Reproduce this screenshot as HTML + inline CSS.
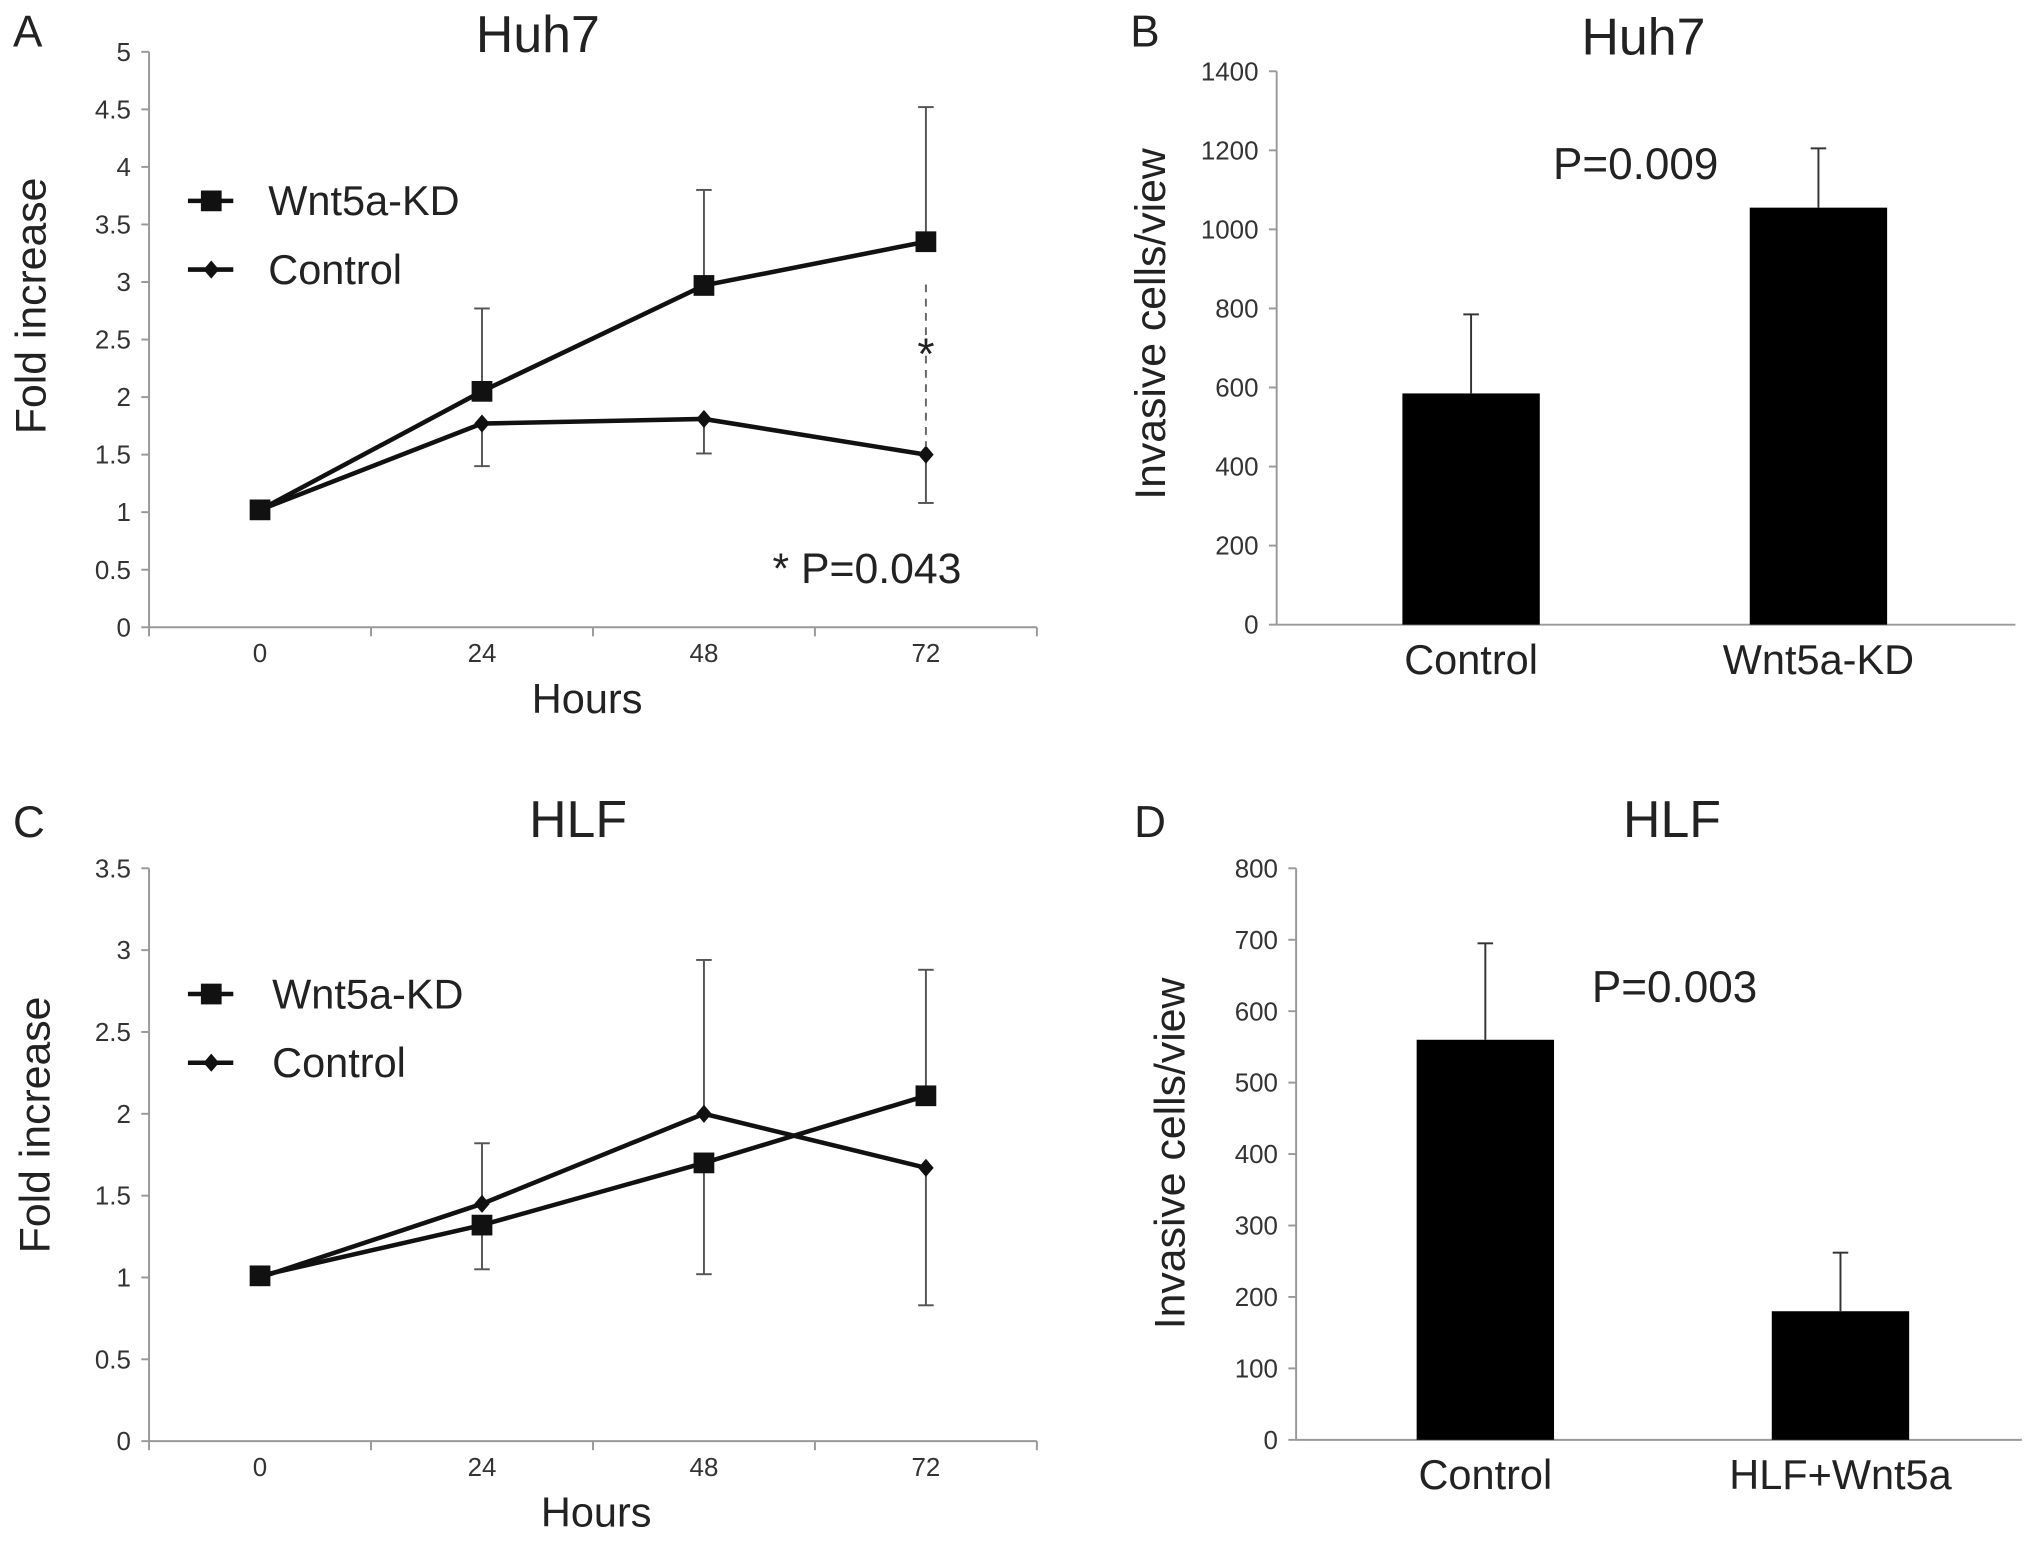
<!DOCTYPE html>
<html><head><meta charset="utf-8">
<style>
html,body{margin:0;padding:0;background:#fff;}
svg{display:block;}
text{font-family:"Liberation Sans",sans-serif;fill:#222;}
.tick{font-family:"Liberation Sans Narrow","Liberation Sans",sans-serif;font-size:20px;fill:#333;}
</style></head><body>
<svg id="fig" width="2031" height="1550" viewBox="0 0 1567 1196" preserveAspectRatio="none" xmlns="http://www.w3.org/2000/svg"></svg>
<script>
// ---- data ----
const hours = ["0","24","48","72"];
const huhKD = [1.02, 2.05, 2.97, 3.35];
const huhKDErr = [0, 0.72, 0.83, 1.17];
const huhCtrl = [1.02, 1.77, 1.81, 1.50];
const huhCtrlErr = [0, 0.37, 0.30, 0.42];
const huhTicks = ["0","0.5","1","1.5","2","2.5","3","3.5","4","4.5","5"];
const hlfKD = [1.01, 1.32, 1.70, 2.11];
const hlfKDErrUp = [0, 0, 0, 0.77];
const hlfKDErrDown = [0, 0.27, 0.68, 0];
const hlfCtrl = [1.0, 1.45, 2.0, 1.67];
const hlfCtrlErrUp = [0, 0.37, 0.94, 0];
const hlfCtrlErrDown = [0, 0, 0, 0.84];
const hlfTicks = ["0","0.5","1","1.5","2","2.5","3","3.5"];
const barCatsB = ["Control","Wnt5a-KD"];
const barValsB = [585, 1055];
const barErrB = [200, 150];
const ticksB = ["0","200","400","600","800","1000","1200","1400"];
const barCatsD = ["Control","HLF+Wnt5a"];
const barValsD = [560, 180];
const barErrD = [135, 82];
const ticksD = ["0","100","200","300","400","500","600","700","800"];

const NS="http://www.w3.org/2000/svg";
const svg=document.getElementById('fig');
function mk(tag,attrs,parent){const e=document.createElementNS(NS,tag);for(const k in attrs)e.setAttribute(k,attrs[k]);(parent||svg).appendChild(e);return e;}
function txt(s,x,y,size,anchor,cls,parent){const t=mk('text',{x:x,y:y,'font-size':size,'text-anchor':anchor||'middle'},parent);if(cls)t.setAttribute('class',cls);t.textContent=s;return t;}
function grp(name){const g=mk('g',{});return g;}

// ---------- line chart ----------
function lineChart(o){
  const g=grp(o.name);
  const x0=115,x1=800,yb=o.yb,yt=o.yt,max=o.max;
  const y=v=>yb-(v/max)*(yb-yt);
  const cw=(x1-x0)/hours.length;
  const x=i=>x0+cw*(i+0.5);
  const ax=mk('g',{},g);
  
  
  mk('line',{x1:x0,y1:yt,x2:x0,y2:yb,stroke:'#999','stroke-width':1.5},ax);
  o.ticks.forEach((t,i)=>{const v=parseFloat(t);mk('line',{x1:x0-6,y1:y(v),x2:x0,y2:y(v),stroke:'#999','stroke-width':1.5},ax);txt(t,x0-14,y(v)+7,20,'end','tick',ax);});
  const xa=mk('g',{},g);
  
  
  mk('line',{x1:x0,y1:yb,x2:x1,y2:yb,stroke:'#999','stroke-width':1.5},xa);
  for(let i=0;i<=hours.length;i++)mk('line',{x1:x0+cw*i,y1:yb,x2:x0+cw*i,y2:yb+7,stroke:'#999','stroke-width':1.5},xa);
  hours.forEach((h,i)=>txt(h,x(i),yb+27,20,'middle','tick',xa));
  const xt=txt('Hours',o.hx,yb+66,32,'middle',null,g);
  
  
  const yl=txt('Fold increase',0,0,33,'middle',null,g);
  yl.setAttribute('transform',`translate(${o.ytx},${o.yty}) rotate(-90)`);
  
  
  const tt=txt(o.title,o.tx,o.ty,40,'middle',null,g);
  
  
  o.series.forEach(s=>{
    s.vals.forEach((v,i)=>{
      const up=s.up[i],dn=s.down[i];
      if(up>0){const e=mk('g',{},g);
        mk('line',{x1:x(i),y1:y(v),x2:x(i),y2:y(v+up),stroke:'#555','stroke-width':1.5},e);
        mk('line',{x1:x(i)-6,y1:y(v+up),x2:x(i)+6,y2:y(v+up),stroke:'#555','stroke-width':1.5},e);}
      if(dn>0){const e=mk('g',{},g);
        mk('line',{x1:x(i),y1:y(v),x2:x(i),y2:y(v-dn),stroke:'#555','stroke-width':1.5},e);
        mk('line',{x1:x(i)-6,y1:y(v-dn),x2:x(i)+6,y2:y(v-dn),stroke:'#555','stroke-width':1.5},e);}
    });
  });
  o.series.forEach(s=>{
    const p=mk('polyline',{points:s.vals.map((v,i)=>x(i)+','+y(v)).join(' '),fill:'none',stroke:'#111','stroke-width':3.5},g);
    
    
    s.vals.forEach((v,i)=>{
      let m;
      if(s.marker==='square')m=mk('rect',{x:x(i)-8,y:y(v)-8,width:16,height:16,fill:'#111'},g);
      else m=mk('polygon',{points:`${x(i)},${y(v)-7} ${x(i)+6},${y(v)} ${x(i)},${y(v)+7} ${x(i)-6},${y(v)}`,fill:'#111'},g);
      
      
    });
  });
  const lg=mk('g',{},g);
  
  
  o.series.forEach((s,k)=>{
    const ly=o.ly+k*53;
    mk('line',{x1:145,y1:ly,x2:180,y2:ly,stroke:'#111','stroke-width':3.5},lg);
    if(s.marker==='square')mk('rect',{x:155,y:ly-8,width:16,height:16,fill:'#111'},lg);
    else mk('polygon',{points:`163,${ly-7} 169,${ly} 163,${ly+7} 157,${ly}`,fill:'#111'},lg);
    txt(s.label,o.lx,ly+11,32,'start',null,lg);
  });
  return {g,x,y};
}

const A=lineChart({name:'panel-a-line-chart',yb:484,yt:40,max:5,ticks:huhTicks,title:'Huh7',tx:415,ty:40,hx:453,ytx:35,yty:236,ly:155,lx:207,
  series:[{name:'wnt5a-kd',label:'Wnt5a-KD',marker:'square',vals:huhKD,up:huhKDErr,down:[0,0,0,0]},
          {name:'control',label:'Control',marker:'diamond',vals:huhCtrl,up:[0,0,0,0],down:huhCtrlErr}]});
mk('line',{x1:A.x(3),y1:A.y(huhKD[3])+33,x2:A.x(3),y2:A.y(huhCtrl[3])-6,stroke:'#666','stroke-width':1.5,'stroke-dasharray':'6,5'},A.g);
txt('*',A.x(3),A.y((huhKD[3]+huhCtrl[3])/2)+16,34,'middle',null,A.g).setAttribute('fill','#777');
const pA=txt('* P=0.043',596,450,33,'start',null,A.g);



const C=lineChart({name:'panel-c-line-chart',yb:1112,yt:670,max:3.5,ticks:hlfTicks,title:'HLF',tx:446,ty:646,hx:460,ytx:38,yty:868,ly:767,lx:210,
  series:[{name:'wnt5a-kd',label:'Wnt5a-KD',marker:'square',vals:hlfKD,up:hlfKDErrUp,down:hlfKDErrDown},
          {name:'control',label:'Control',marker:'diamond',vals:hlfCtrl,up:hlfCtrlErrUp,down:hlfCtrlErrDown}]});

// ---------- bar chart ----------
function barChart(o){
  const g=grp(o.name);
  const x0=o.x0,x1=o.x1,yb=o.yb,yt=o.yt,max=o.max;
  const y=v=>yb-(v/max)*(yb-yt);
  const x=i=>o.c0+o.step*i;
  const ax=mk('g',{},g);
  
  
  mk('line',{x1:x0,y1:yt,x2:x0,y2:yb,stroke:'#999','stroke-width':1.5},ax);
  o.ticks.forEach(t=>{const v=parseFloat(t);mk('line',{x1:x0-6,y1:y(v),x2:x0,y2:y(v),stroke:'#999','stroke-width':1.5},ax);txt(t,x0-14,y(v)+7,20,'end','tick',ax);});
  const xa=mk('g',{},g);
  
  
  mk('line',{x1:x0,y1:yb,x2:x1,y2:yb,stroke:'#999','stroke-width':1.5},xa);
  o.cats.forEach((c,i)=>txt(c,x(i),yb+38,32,'middle',null,xa));
  o.vals.forEach((v,i)=>{
    const b=mk('rect',{x:x(i)-53,y:y(v),width:106,height:yb-y(v),fill:'#000'},g);
    
    
    const e=mk('g',{},g);
    
    
    mk('line',{x1:x(i),y1:y(v),x2:x(i),y2:y(v+o.err[i]),stroke:'#333','stroke-width':1.5},e);
    mk('line',{x1:x(i)-6,y1:y(v+o.err[i]),x2:x(i)+6,y2:y(v+o.err[i]),stroke:'#333','stroke-width':1.5},e);
  });
  const yl=txt('Invasive cells/view',0,0,33,'middle',null,g);
  yl.setAttribute('transform',`translate(${o.ytx},${o.yty}) rotate(-90)`);
  
  
  const tt=txt(o.title,o.tx,o.ty,40,'middle',null,g);
  
  
  const p=txt(o.p,o.px,o.py,34,'middle',null,g);
  
  
}
barChart({name:'panel-b-bar-chart',x0:985,x1:1555,c0:1135,step:268,yb:482,yt:55,max:1400,cats:barCatsB,vals:barValsB,err:barErrB,ticks:ticksB,title:'Huh7',tx:1268,ty:42,p:'P=0.009',px:1262,py:138,ytx:899,yty:250});
barChart({name:'panel-d-bar-chart',x0:1000,x1:1560,c0:1146,step:274,yb:1111,yt:670,max:800,cats:barCatsD,vals:barValsD,err:barErrD,ticks:ticksD,title:'HLF',tx:1290,ty:646,p:'P=0.003',px:1292,py:773,ytx:914,yty:890});

[['A',10,36],['B',872,36],['C',10,646],['D',875,646]].forEach(l=>{
  const t=txt(l[0],l[1],l[2],34,'start');
  
  
});
</script>
</body></html>
